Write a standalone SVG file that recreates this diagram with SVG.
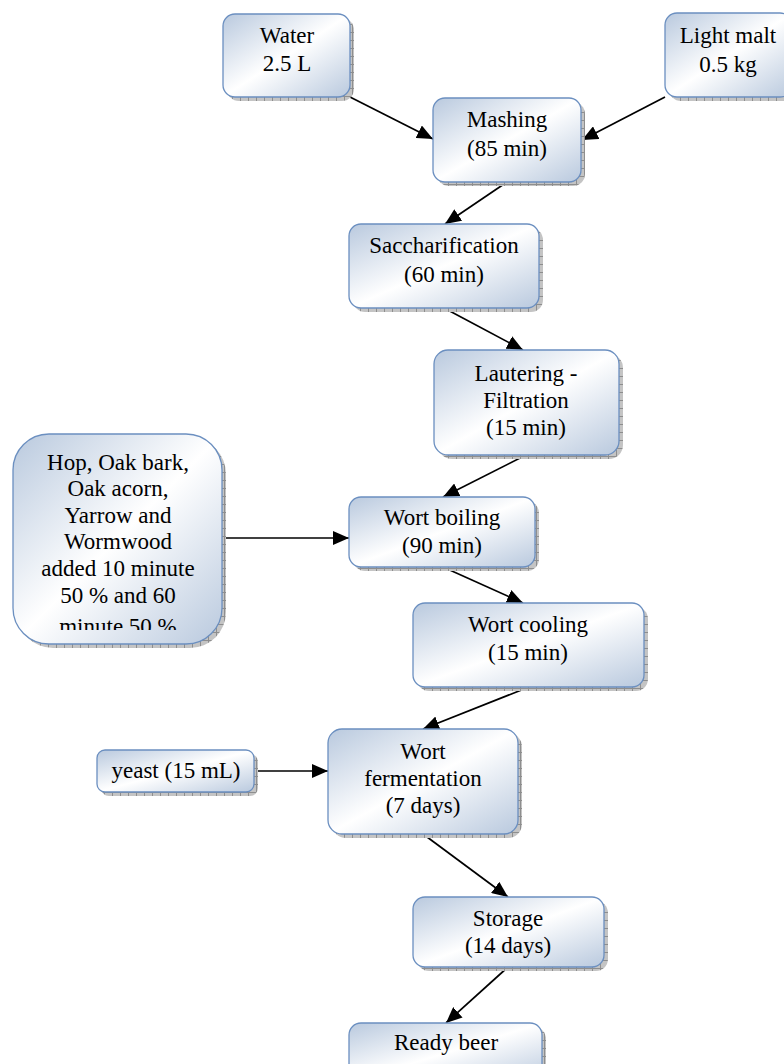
<svg xmlns="http://www.w3.org/2000/svg" width="784" height="1064" viewBox="0 0 784 1064">
<defs>
<linearGradient id="g" x1="0" y1="0" x2="1" y2="1">
<stop offset="0" stop-color="#b9c9de"/>
<stop offset="0.5" stop-color="#ffffff"/>
<stop offset="1" stop-color="#b9c9de"/>
</linearGradient>
<pattern id="hatch" width="8" height="8" patternUnits="userSpaceOnUse">
<rect width="8" height="8" fill="#c4c4c4"/>
<path d="M0 0.5H8M0.5 0V8" stroke="#8e8e8e" stroke-width="1"/>
</pattern>
<marker id="arr" viewBox="0 0 16 14" refX="16" refY="7" markerWidth="16" markerHeight="14" markerUnits="userSpaceOnUse" orient="auto">
<path d="M0 0L16 7L0 14Z" fill="#000"/>
</marker>
<clipPath id="hopclip"><rect x="13" y="434" width="209" height="196"/></clipPath>
</defs>
<style>
.sh{fill:url(#hatch);}
.bx{fill:url(#g);stroke:#6b8fc0;stroke-width:1.3;}
.t{font-family:"Liberation Serif","Times New Roman",serif;font-size:23px;fill:#000;text-anchor:middle;}
.c{stroke:#000;stroke-width:1.7;fill:none;marker-end:url(#arr);}
</style>
<rect width="784" height="1064" fill="#fff"/>

<g id="connectors">
<line class="c" x1="350" y1="97" x2="433" y2="139"/>
<line class="c" x1="665" y1="97" x2="582" y2="140"/>
<line class="c" x1="507" y1="182" x2="445" y2="224"/>
<line class="c" x1="444" y1="308" x2="523" y2="350"/>
<line class="c" x1="526" y1="455" x2="443" y2="497"/>
<line class="c" x1="222" y1="538" x2="349" y2="538"/>
<line class="c" x1="443" y1="567" x2="523" y2="603"/>
<line class="c" x1="529" y1="687" x2="423" y2="729"/>
<line class="c" x1="244" y1="771" x2="328" y2="771"/>
<line class="c" x1="423" y1="834" x2="508" y2="897"/>
<line class="c" x1="508" y1="967" x2="446" y2="1023"/>
</g>

<g id="water">
<rect class="sh" x="227" y="18" width="127" height="83" rx="12"/>
<rect class="bx" x="223" y="14" width="127" height="83" rx="12"/>
<text class="t" x="287" y="43">Water</text>
<text class="t" x="287" y="71">2.5 L</text>
</g>

<g id="lightmalt">
<rect class="sh" x="669" y="17" width="127" height="84" rx="12"/>
<rect class="bx" x="665" y="13" width="127" height="84" rx="12"/>
<text class="t" x="728" y="43">Light malt</text>
<text class="t" x="728" y="72">0.5 kg</text>
</g>

<g id="mashing">
<rect class="sh" x="437" y="102" width="148" height="84" rx="12"/>
<rect class="bx" x="433" y="98" width="148" height="84" rx="12"/>
<text class="t" x="507" y="127">Mashing</text>
<text class="t" x="507" y="156">(85 min)</text>
</g>

<g id="saccharification">
<rect class="sh" x="353" y="228" width="190" height="84" rx="12"/>
<rect class="bx" x="349" y="224" width="190" height="84" rx="12"/>
<text class="t" x="444" y="253">Saccharification</text>
<text class="t" x="444" y="282">(60 min)</text>
</g>

<g id="lautering">
<rect class="sh" x="438" y="354" width="185" height="105" rx="14"/>
<rect class="bx" x="434" y="350" width="185" height="105" rx="14"/>
<text class="t" x="526" y="381">Lautering -</text>
<text class="t" x="526" y="408">Filtration</text>
<text class="t" x="526" y="435">(15 min)</text>
</g>

<g id="hop">
<rect class="sh" x="17" y="438" width="209" height="210" rx="36"/>
<rect class="bx" x="13" y="434" width="209" height="210" rx="36"/>
<g clip-path="url(#hopclip)">
<text class="t" x="118" y="470">Hop, Oak bark,</text>
<text class="t" x="118" y="496">Oak acorn,</text>
<text class="t" x="118" y="523">Yarrow and</text>
<text class="t" x="118" y="549">Wormwood</text>
<text class="t" x="118" y="576">added 10 minute</text>
<text class="t" x="118" y="603">50 % and 60</text>
<text class="t" x="118" y="634">minute 50 %</text>
</g>
</g>

<g id="wortboiling">
<rect class="sh" x="353" y="501" width="186" height="70" rx="12"/>
<rect class="bx" x="349" y="497" width="186" height="70" rx="12"/>
<text class="t" x="442" y="525">Wort boiling</text>
<text class="t" x="442" y="553">(90 min)</text>
</g>

<g id="wortcooling">
<rect class="sh" x="417" y="607" width="231" height="84" rx="12"/>
<rect class="bx" x="413" y="603" width="231" height="84" rx="12"/>
<text class="t" x="528" y="632">Wort cooling</text>
<text class="t" x="528" y="660">(15 min)</text>
</g>

<g id="yeast">
<rect class="sh" x="101" y="754" width="157" height="42" rx="8"/>
<rect class="bx" x="97" y="750" width="157" height="42" rx="8"/>
<text class="t" x="176" y="778">yeast (15 mL)</text>
</g>

<g id="fermentation">
<rect class="sh" x="332" y="733" width="190" height="105" rx="14"/>
<rect class="bx" x="328" y="729" width="190" height="105" rx="14"/>
<text class="t" x="423" y="759">Wort</text>
<text class="t" x="423" y="786">fermentation</text>
<text class="t" x="423" y="813">(7 days)</text>
</g>

<g id="storage">
<rect class="sh" x="417" y="901" width="191" height="70" rx="12"/>
<rect class="bx" x="413" y="897" width="191" height="70" rx="12"/>
<text class="t" x="508" y="926">Storage</text>
<text class="t" x="508" y="953">(14 days)</text>
</g>

<g id="readybeer">
<rect class="sh" x="353" y="1027" width="193" height="60" rx="12"/>
<rect class="bx" x="349" y="1023" width="193" height="60" rx="12"/>
<text class="t" x="446" y="1050">Ready beer</text>
</g>
</svg>
